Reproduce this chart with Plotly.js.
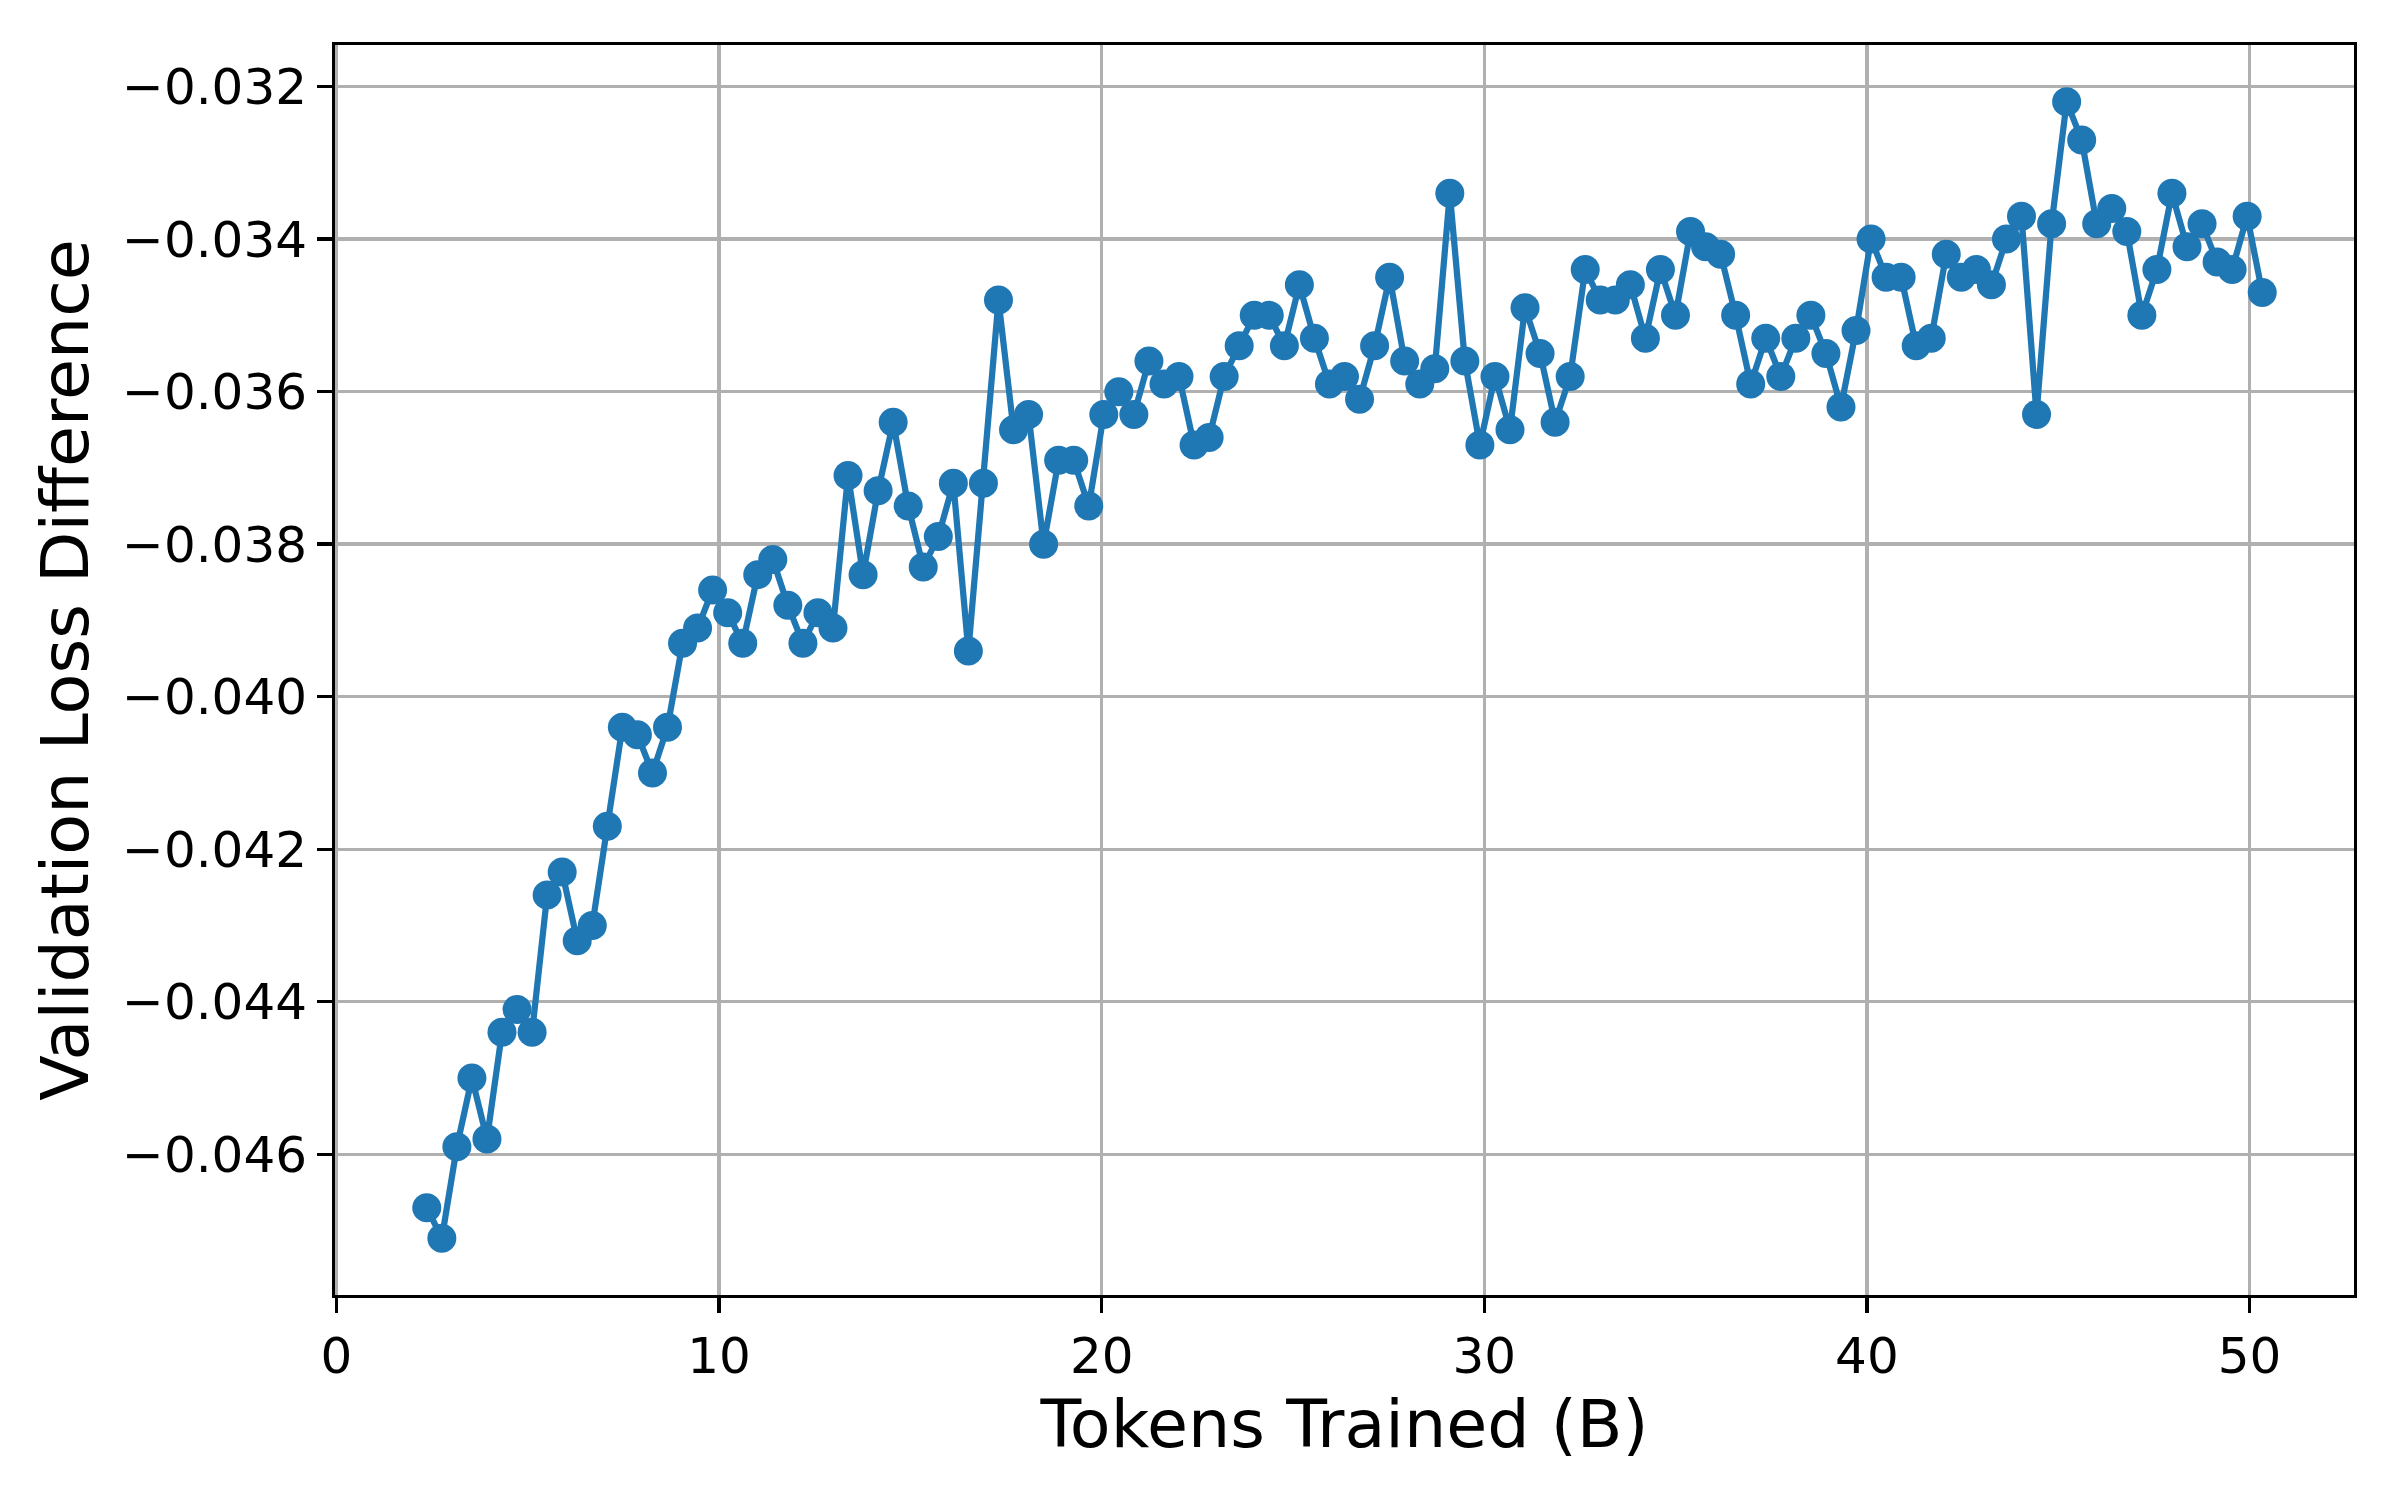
<!DOCTYPE html>
<html>
<head>
<meta charset="utf-8">
<script src="https://cdn.plot.ly/plotly-3.0.1.min.js"></script>
<style>
  html, body { margin: 0; padding: 0; background: #ffffff; }
  #chart { width: 2400px; height: 1500px; }
</style>
</head>
<body>
<div id="chart"></div>
<script>
// Tokens trained (billions) at each evaluation
const tokens = [
  2.359, 2.753, 3.146, 3.539, 3.932, 4.325, 4.719, 5.112, 5.505, 5.898,
  6.291, 6.685, 7.078, 7.471, 7.864, 8.258, 8.651, 9.044, 9.437, 9.830,
  10.224, 10.617, 11.010, 11.403, 11.796, 12.190, 12.583, 12.976, 13.369, 13.763,
  14.156, 14.549, 14.942, 15.335, 15.729, 16.122, 16.515, 16.908, 17.302, 17.695,
  18.088, 18.481, 18.874, 19.268, 19.661, 20.054, 20.447, 20.840, 21.234, 21.627,
  22.020, 22.413, 22.807, 23.200, 23.593, 23.986, 24.379, 24.773, 25.166, 25.559,
  25.952, 26.345, 26.739, 27.132, 27.525, 27.918, 28.312, 28.705, 29.098, 29.491,
  29.884, 30.278, 30.671, 31.064, 31.457, 31.850, 32.244, 32.637, 33.030, 33.423,
  33.817, 34.210, 34.603, 34.996, 35.389, 35.783, 36.176, 36.569, 36.962, 37.356,
  37.749, 38.142, 38.535, 38.928, 39.322, 39.715, 40.108, 40.501, 40.894, 41.288,
  41.681, 42.074, 42.467, 42.861, 43.254, 43.647, 44.040, 44.433, 44.827, 45.220,
  45.613, 46.006, 46.400, 46.793, 47.186, 47.579, 47.972, 48.366, 48.759, 49.152,
  49.545, 49.938, 50.332
];

// Validation loss difference at each evaluation
const lossDiff = [
  -0.0467, -0.0471, -0.0459, -0.0450, -0.0458, -0.0444, -0.0441, -0.0444, -0.0426, -0.0423,
  -0.0432, -0.0430, -0.0417, -0.0404, -0.0405, -0.0410, -0.0404, -0.0393, -0.0391, -0.0386,
  -0.0389, -0.0393, -0.0384, -0.0382, -0.0388, -0.0393, -0.0389, -0.0391, -0.0371, -0.0384,
  -0.0373, -0.0364, -0.0375, -0.0383, -0.0379, -0.0372, -0.0394, -0.0372, -0.0348, -0.0365,
  -0.0363, -0.0380, -0.0369, -0.0369, -0.0375, -0.0363, -0.0360, -0.0363, -0.0356, -0.0359,
  -0.0358, -0.0367, -0.0366, -0.0358, -0.0354, -0.0350, -0.0350, -0.0354, -0.0346, -0.0353,
  -0.0359, -0.0358, -0.0361, -0.0354, -0.0345, -0.0356, -0.0359, -0.0357, -0.0334, -0.0356,
  -0.0367, -0.0358, -0.0365, -0.0349, -0.0355, -0.0364, -0.0358, -0.0344, -0.0348, -0.0348,
  -0.0346, -0.0353, -0.0344, -0.0350, -0.0339, -0.0341, -0.0342, -0.0350, -0.0359, -0.0353,
  -0.0358, -0.0353, -0.0350, -0.0355, -0.0362, -0.0352, -0.0340, -0.0345, -0.0345, -0.0354,
  -0.0353, -0.0342, -0.0345, -0.0344, -0.0346, -0.0340, -0.0337, -0.0363, -0.0338, -0.0322,
  -0.0327, -0.0338, -0.0336, -0.0339, -0.0350, -0.0344, -0.0334, -0.0341, -0.0338, -0.0343,
  -0.0344, -0.0337, -0.0347
];

const xTickVals = [0, 10, 20, 30, 40, 50];
const yTickVals = [-0.046, -0.044, -0.042, -0.040, -0.038, -0.036, -0.034, -0.032];

function paddedRange(arr, frac) {
  const lo = Math.min(...arr), hi = Math.max(...arr);
  const pad = (hi - lo) * frac;
  return [lo - pad, hi + pad];
}

const font = "DejaVu Sans, Liberation Sans, sans-serif";

const trace = {
  x: tokens,
  y: lossDiff,
  type: "scatter",
  mode: "lines+markers",
  line: { color: "#1f77b4", width: 6.25 },
  marker: { color: "#1f77b4", size: 29 },
  hoverinfo: "x+y"
};

const layout = {
  width: 2400,
  height: 1500,
  paper_bgcolor: "#ffffff",
  plot_bgcolor: "#ffffff",
  showlegend: false,
  margin: { l: 335, r: 46, t: 45, b: 205, pad: 0 },
  font: { family: font, color: "#000000", size: 50 },
  xaxis: {
    range: paddedRange(tokens, 0.05),
    tickvals: xTickVals,
    ticktext: xTickVals.map(v => String(v)),
    ticks: "outside",
    ticklen: 14.6,
    tickwidth: 3.33,
    tickcolor: "#000000",
    ticklabelstandoff: 0,
    tickfont: { family: font, size: 50, color: "#000000" },
    showgrid: true,
    gridcolor: "#b0b0b0",
    gridwidth: 3.33,
    zeroline: false,
    showline: true,
    linecolor: "#000000",
    linewidth: 3.33,
    mirror: true,
    title: { text: "Tokens Trained (B)", font: { family: font, size: 66.7, color: "#000000" }, standoff: 17 }
  },
  yaxis: {
    range: paddedRange(lossDiff, 0.05),
    tickvals: yTickVals,
    ticktext: yTickVals.map(v => "\u2212" + Math.abs(v).toFixed(3)),
    ticks: "outside",
    ticklen: 14.6,
    tickwidth: 3.33,
    tickcolor: "#000000",
    ticklabelstandoff: 0,
    tickfont: { family: font, size: 50, color: "#000000" },
    showgrid: true,
    gridcolor: "#b0b0b0",
    gridwidth: 3.33,
    zeroline: false,
    showline: true,
    linecolor: "#000000",
    linewidth: 3.33,
    mirror: true,
    title: { text: "Validation Loss Difference", font: { family: font, size: 66.7, color: "#000000" }, standoff: 12 }
  }
};

Plotly.newPlot("chart", [trace], layout, { staticPlot: true, displayModeBar: false });
</script>
</body>
</html>
